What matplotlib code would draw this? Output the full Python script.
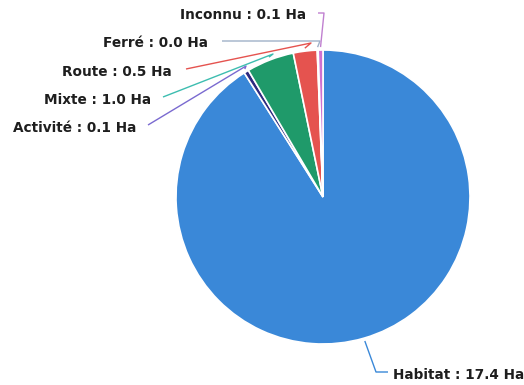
import numpy as np
import matplotlib
matplotlib.use("Agg")
import matplotlib.pyplot as plt

# Surfaces par type d'occupation (hectares)
categories = ["Habitat", "Activité", "Mixte", "Route", "Ferré", "Inconnu"]
surfaces = [17.4, 0.1, 1.0, 0.5, 0.0, 0.1]
wedge_colors = ["#3a88d8", "#2d2a80", "#1f9a6a", "#e5534f", "#8fa6c0", "#d070d0"]
line_colors = ["#3a88d8", "#7a6ad0", "#3dbdb0", "#e5534f", "#9fb0c8", "#c080d0"]

W, H = 524, 385
fig = plt.figure(figsize=(W / 100, H / 100), dpi=100)
ax = fig.add_axes([0, 0, 1, 1])

cx, cy, r = 323, H - 197, 147

# a zero-hectare wedge still gets a hairline sliver so its label has an anchor
draw_vals = [v if v > 0 else 0.02 for v in surfaces]
wedges, _ = ax.pie(draw_vals, colors=wedge_colors, startangle=90, counterclock=False,
                   center=(cx, cy), radius=r, frame=True,
                   wedgeprops=dict(edgecolor="white", linewidth=1.2))
ax.set_xlim(0, W)
ax.set_ylim(0, H)
ax.set_aspect("equal")
ax.axis("off")

# leader-line layout in pixel coordinates (x, y from top): elbow, end, text anchor
layout = {
    "Habitat":  ((376, 372), (388, 372), (393, 375), "left"),
    "Activité": ((246, 66), (148, 125), (136, 128), "right"),
    "Mixte":    ((273, 54), (163, 97), (151, 100), "right"),
    "Route":    ((311, 43), (186, 69), (172, 72), "right"),
    "Ferré":    ((320, 41), (222, 41), (208, 43), "right"),
    "Inconnu":  ((324, 13), (318, 13), (306, 15), "right"),
}

for w, name, val, lc in zip(wedges, categories, surfaces, line_colors):
    ang = np.deg2rad((w.theta1 + w.theta2) / 2)
    x0, y0 = cx + 1.02 * r * np.cos(ang), cy + 1.02 * r * np.sin(ang)
    (ex, ey), (tx, ty), (lx, ly), ha = layout[name]
    ax.plot([x0, ex, tx], [y0, H - ey, H - ty], color=lc, lw=1.0,
            solid_capstyle="butt")
    ax.text(lx, H - ly, f"{name} : {val:.1f} Ha", ha=ha, va="center",
            fontsize=9.8, fontweight="bold", color="#1e1e1e",
            family="DejaVu Sans")

fig.savefig("out.png", dpi=100)
